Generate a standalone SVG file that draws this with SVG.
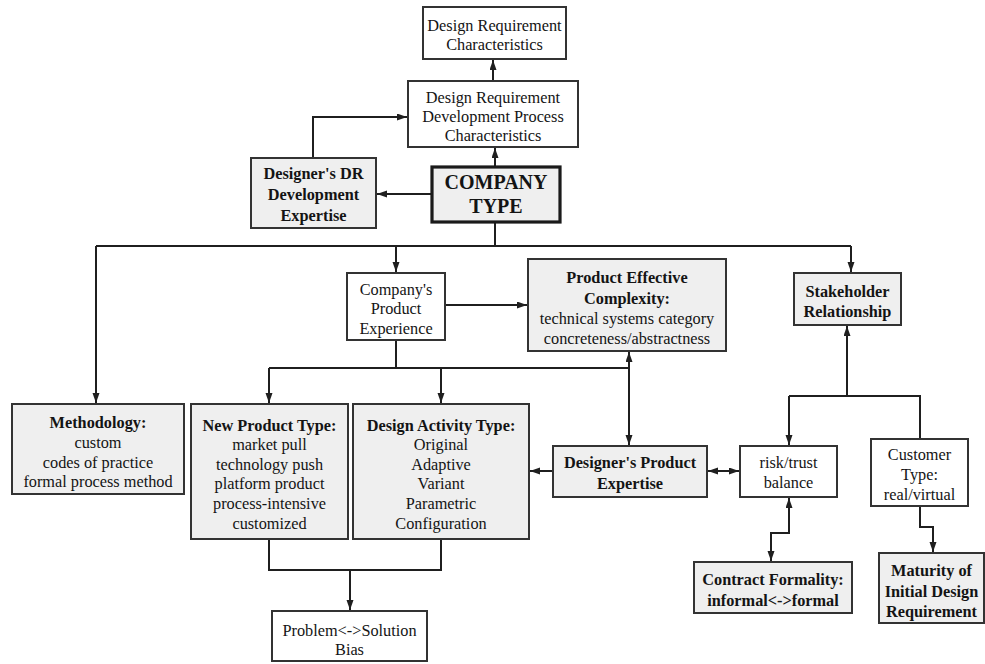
<svg xmlns="http://www.w3.org/2000/svg" width="985" height="664" viewBox="0 0 985 664">
  <style>
    .box { fill: #ffffff; stroke: #333333; stroke-width: 2; }
    .shade { fill: #efefef; stroke: #333333; stroke-width: 2; }
    .main { fill: #efefef; stroke: #1a1a1a; stroke-width: 3.2; }
    text { font-family: 'Liberation Serif', Tinos, 'Times New Roman', 'DejaVu Serif', serif; font-size: 16.3px; fill: #141414; text-anchor: middle; }
    .b { font-weight: bold; }
    .big { font-weight: bold; font-size: 20px; }
    .wire { fill: none; stroke: #1f1f1f; stroke-width: 2; }
  </style>
  <defs>
    <marker id="arrow" markerUnits="userSpaceOnUse" markerWidth="11" markerHeight="8" refX="10" refY="3.5" orient="auto-start-reverse">
      <path d="M0,0 L10,3.5 L0,7 z" fill="#1f1f1f"/>
    </marker>
  </defs>
  <rect width="985" height="664" fill="#ffffff"/>

  <!-- connectors -->
  <g id="connectors" class="wire">
    <line x1="493" y1="81" x2="493" y2="60" marker-end="url(#arrow)"/>
    <line x1="495" y1="167" x2="495" y2="148" marker-end="url(#arrow)"/>
    <line x1="432" y1="194" x2="377" y2="194" marker-end="url(#arrow)"/>
    <path d="M313,158 V117 H407" marker-end="url(#arrow)"/>
    <path d="M495,222 V246"/>
    <path d="M96,246 H851"/>
    <line x1="96" y1="246" x2="96" y2="403" marker-end="url(#arrow)"/>
    <line x1="396" y1="246" x2="396" y2="272" marker-end="url(#arrow)"/>
    <line x1="851" y1="246" x2="851" y2="272" marker-end="url(#arrow)"/>
    <line x1="445" y1="305" x2="527" y2="305" marker-end="url(#arrow)"/>
    <path d="M396,340 V368"/>
    <path d="M269,368 H629"/>
    <line x1="269" y1="368" x2="269" y2="403" marker-end="url(#arrow)"/>
    <line x1="441" y1="368" x2="441" y2="403" marker-end="url(#arrow)"/>
    <line x1="629" y1="352" x2="629" y2="445" marker-start="url(#arrow)" marker-end="url(#arrow)"/>
    <line x1="553" y1="471" x2="530" y2="471" marker-end="url(#arrow)"/>
    <line x1="708" y1="471" x2="739" y2="471" marker-start="url(#arrow)" marker-end="url(#arrow)"/>
    <line x1="847" y1="396" x2="847" y2="326" marker-end="url(#arrow)"/>
    <path d="M789,396 H920 V439"/>
    <line x1="789" y1="396" x2="789" y2="445" marker-end="url(#arrow)"/>
    <path d="M789,498 V533 H771 V561" marker-start="url(#arrow)" marker-end="url(#arrow)"/>
    <path d="M920,506 V527 H933 V552" marker-end="url(#arrow)"/>
    <path d="M269,539 V570 H441 V539"/>
    <line x1="350" y1="570" x2="350" y2="610" marker-end="url(#arrow)"/>
  </g>

  <!-- nodes -->
  <g id="dr-characteristics">
    <rect class="box" x="423" y="7" width="143" height="52"/>
    <text x="494.5" y="30.5">Design Requirement</text>
    <text x="494.5" y="49.5">Characteristics</text>
  </g>
  <g id="dr-process">
    <rect class="box" x="408" y="81" width="170" height="66"/>
    <text x="493" y="102.5">Design Requirement</text>
    <text x="493" y="121.5">Development Process</text>
    <text x="493" y="140.5">Characteristics</text>
  </g>
  <g id="company-type">
    <rect class="main" x="432" y="167" width="128" height="55"/>
    <text class="big" x="496" y="188.6">COMPANY</text>
    <text class="big" x="496" y="212.6">TYPE</text>
  </g>
  <g id="dr-expertise">
    <rect class="shade" x="251" y="158" width="125" height="70"/>
    <text class="b" x="313.5" y="178.5">Designer's DR</text>
    <text class="b" x="313.5" y="199.5">Development</text>
    <text class="b" x="313.5" y="220.5">Expertise</text>
  </g>
  <g id="product-experience">
    <rect class="box" x="347" y="273" width="98" height="67"/>
    <text x="396" y="294.5">Company's</text>
    <text x="396" y="313.5">Product</text>
    <text x="396" y="333.5">Experience</text>
  </g>
  <g id="effective-complexity">
    <rect class="shade" x="528" y="259" width="198" height="92"/>
    <text class="b" x="627" y="282.5">Product Effective</text>
    <text class="b" x="627" y="303.5">Complexity:</text>
    <text x="627" y="323.5">technical systems category</text>
    <text x="627" y="343.5">concreteness/abstractness</text>
  </g>
  <g id="stakeholder">
    <rect class="shade" x="794" y="273" width="107" height="52"/>
    <text class="b" x="847.5" y="296.5">Stakeholder</text>
    <text class="b" x="847.5" y="316.5">Relationship</text>
  </g>
  <g id="methodology">
    <rect class="shade" x="12" y="404" width="172" height="90"/>
    <text class="b" x="98" y="427.5">Methodology:</text>
    <text x="98" y="447.5">custom</text>
    <text x="98" y="467.5">codes of practice</text>
    <text x="98" y="486.5">formal process method</text>
  </g>
  <g id="new-product-type">
    <rect class="shade" x="191" y="404" width="157" height="135"/>
    <text class="b" x="269.5" y="430.5">New Product Type:</text>
    <text x="269.5" y="449.5">market pull</text>
    <text x="269.5" y="469.5">technology push</text>
    <text x="269.5" y="488.5">platform product</text>
    <text x="269.5" y="508.5">process-intensive</text>
    <text x="269.5" y="528.5">customized</text>
  </g>
  <g id="design-activity-type">
    <rect class="shade" x="353" y="404" width="176" height="135"/>
    <text class="b" x="441" y="430.5">Design Activity Type:</text>
    <text x="441" y="449.5">Original</text>
    <text x="441" y="469.5">Adaptive</text>
    <text x="441" y="488.5">Variant</text>
    <text x="441" y="508.5">Parametric</text>
    <text x="441" y="528.5">Configuration</text>
  </g>
  <g id="product-expertise">
    <rect class="shade" x="553" y="446" width="154" height="51"/>
    <text class="b" x="630" y="467.5">Designer's Product</text>
    <text class="b" x="630" y="488.5">Expertise</text>
  </g>
  <g id="risk-trust">
    <rect class="box" x="740" y="446" width="97" height="51"/>
    <text x="788.5" y="467.5">risk/trust</text>
    <text x="788.5" y="487.5">balance</text>
  </g>
  <g id="customer-type">
    <rect class="box" x="871" y="439" width="97" height="67"/>
    <text x="919.5" y="459.5">Customer</text>
    <text x="919.5" y="479.5">Type:</text>
    <text x="919.5" y="499.5">real/virtual</text>
  </g>
  <g id="contract-formality">
    <rect class="shade" x="694" y="562" width="158" height="51"/>
    <text class="b" x="773" y="584.5">Contract Formality:</text>
    <text class="b" x="773" y="605.5">informal&lt;-&gt;formal</text>
  </g>
  <g id="initial-dr-maturity">
    <rect class="shade" x="879" y="553" width="105" height="70"/>
    <text class="b" x="931.5" y="575.5">Maturity of</text>
    <text class="b" x="931.5" y="596.5">Initial Design</text>
    <text class="b" x="931.5" y="616.5">Requirement</text>
  </g>
  <g id="problem-solution-bias">
    <rect class="box" x="272" y="611" width="155" height="50"/>
    <text x="349.5" y="635.5">Problem&lt;-&gt;Solution</text>
    <text x="349.5" y="654.5">Bias</text>
  </g>
</svg>
